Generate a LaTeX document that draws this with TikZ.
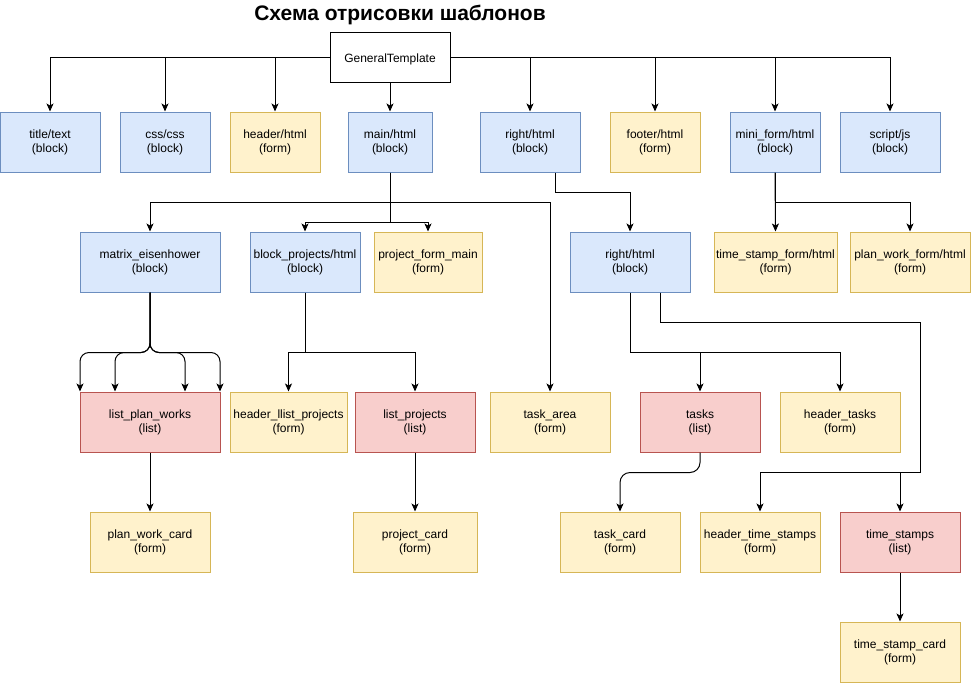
\documentclass[tikz,border=0pt]{standalone}
\usepackage{fontspec}
\setmainfont{Liberation Sans}
\usetikzlibrary{arrows.meta}
\definecolor{bfill}{HTML}{DAE8FC}\definecolor{bline}{HTML}{6C8EBF}
\definecolor{yfill}{HTML}{FFF2CC}\definecolor{yline}{HTML}{D6B656}
\definecolor{rfill}{HTML}{F8CECC}\definecolor{rline}{HTML}{B85450}
\tikzset{
  box/.style={draw, line width=1pt, inner sep=0pt, align=center, font=\fontsize{12}{14}\selectfont, minimum height=60pt, execute at begin node={\rule{0pt}{13pt}}},
  blk/.style={box, fill=bfill, draw=bline},
  frm/.style={box, fill=yfill, draw=yline},
  lst/.style={box, fill=rfill, draw=rline},
  arr/.style={draw, line width=1pt, -{Stealth[length=8pt,width=7pt,inset=2pt]}},
}
\begin{document}
\begin{tikzpicture}[x=1pt,y=-1pt]
\useasboundingbox (0,0) rectangle (971,683);
\node[font=\bfseries\fontsize{21}{24}\selectfont, anchor=base] (heading) at (400,20) {Схема отрисовки шаблонов};
\node[box, fill=white, draw=black, minimum width=120pt, minimum height=50pt] (gt) at (390,57) {GeneralTemplate};
% row 1
\node[blk, minimum width=100pt] (title) at (50,142) {title/text\\(block)};
\node[blk, minimum width=90pt] (css) at (165,142) {css/css\\(block)};
\node[frm, minimum width=90pt] (header) at (275,142) {header/html\\(form)};
\node[blk, minimum width=84pt] (main) at (390,142) {main/html\\(block)};
\node[blk, minimum width=100pt] (rightA) at (530,142) {right/html\\(block)};
\node[frm, minimum width=90pt] (footer) at (655,142) {footer/html\\(form)};
\node[blk, minimum width=90pt] (mini) at (775,142) {mini\_form/html\\(block)};
\node[blk, minimum width=100pt] (script) at (890,142) {script/js\\(block)};
% row 2
\node[blk, minimum width=140pt] (matrix) at (150,262) {matrix\_eisenhower\\(block)};
\node[blk, minimum width=110pt] (bproj) at (305,262) {block\_projects/html\\(block)};
\node[frm, minimum width=108pt] (pfm) at (428,262) {project\_form\_main\\(form)};
\node[blk, minimum width=120pt] (rightB) at (630,262) {right/html\\(block)};
\node[frm, minimum width=123pt] (tsf) at (775.5,262) {time\_stamp\_form/html\\(form)};
\node[frm, minimum width=120pt] (pwf) at (910,262) {plan\_work\_form/html\\(form)};
% row 3
\node[lst, minimum width=140pt] (lpw) at (150,422) {list\_plan\_works\\(list)};
\node[frm, minimum width=117pt] (hlp) at (288.5,422) {header\_llist\_projects\\(form)};
\node[lst, minimum width=120pt] (lproj) at (415,422) {list\_projects\\(list)};
\node[frm, minimum width=120pt] (tarea) at (550,422) {task\_area\\(form)};
\node[lst, minimum width=120pt] (tasks) at (700,422) {tasks\\(list)};
\node[frm, minimum width=120pt] (htasks) at (840,422) {header\_tasks\\(form)};
% row 4
\node[frm, minimum width=120pt] (pwc) at (150,542) {plan\_work\_card\\(form)};
\node[frm, minimum width=124pt] (pcard) at (415,542) {project\_card\\(form)};
\node[frm, minimum width=120pt] (tcard) at (620,542) {task\_card\\(form)};
\node[frm, minimum width=120pt] (hts) at (760,542) {header\_time\_stamps\\(form)};
\node[lst, minimum width=120pt] (ts) at (900,542) {time\_stamps\\(list)};
\node[frm, minimum width=120pt] (tsc) at (900,652) {time\_stamp\_card\\(form)};
\coordinate (j1) at (920,322);
\coordinate (j2) at (920,472);
% GeneralTemplate edges
\draw[arr] (gt.west) -| (title.north);
\draw[arr] (gt.west) -| (css.north);
\draw[arr] (gt.west) -| (header.north);
\draw[arr] (gt.south) -- (main.north);
\draw[arr] (gt.east) -| (rightA.north);
\draw[arr] (gt.east) -| (footer.north);
\draw[arr] (gt.east) -| (mini.north);
\draw[arr] (gt.east) -| (script.north);
% main edges
\draw[arr] (main.south) -- ++(0,30) -| (matrix.north);
\draw[arr] (main.south) -- ++(0,30) -| (tarea.north);
\draw[arr] (main.south) -- ++(0,50) -| (bproj.north);
\draw[arr] (main.south) -- ++(0,50) -| (pfm.north);
% right edges
\draw[arr] ([xshift=25pt]rightA.south) -- ++(0,20) -| (rightB.north);
\draw[arr] (mini.south) -- (tsf.north);
\draw[arr] (mini.south) -- ++(0,30) -| (pwf.north);
% matrix to list_plan_works
\draw[arr, rounded corners=9pt] (matrix.south) -- ++(0,60) -| ([xshift=-70pt]lpw.north);
\draw[arr, rounded corners=9pt] (matrix.south) -- ++(0,60) -| ([xshift=-35pt]lpw.north);
\draw[arr, rounded corners=9pt] (matrix.south) -- ++(0,60) -| ([xshift=35pt]lpw.north);
\draw[arr, rounded corners=9pt] (matrix.south) -- ++(0,60) -| ([xshift=70pt]lpw.north);
% block_projects
\draw[arr] (bproj.south) -- ++(0,60) -| (hlp.north);
\draw[arr] (bproj.south) -- ++(0,60) -| (lproj.north);
% rightB
\draw[arr] (rightB.south) -- ++(0,60) -| (tasks.north);
\draw[arr] (rightB.south) -- ++(0,60) -| (htasks.north);
\draw[arr] ([xshift=30pt]rightB.south) |- (j1) -- (j2) -| (hts.north);
\draw[arr] ([xshift=30pt]rightB.south) |- (j1) -- (j2) -| (ts.north);
% lower
\draw[arr, rounded corners=10pt] (tasks.south) -- ++(0,20) -| (tcard.north);
\draw[arr] (lpw.south) -- (pwc.north);
\draw[arr] (lproj.south) -- (pcard.north);
\draw[arr] (ts.south) -- (tsc.north);
\end{tikzpicture}
\end{document}
